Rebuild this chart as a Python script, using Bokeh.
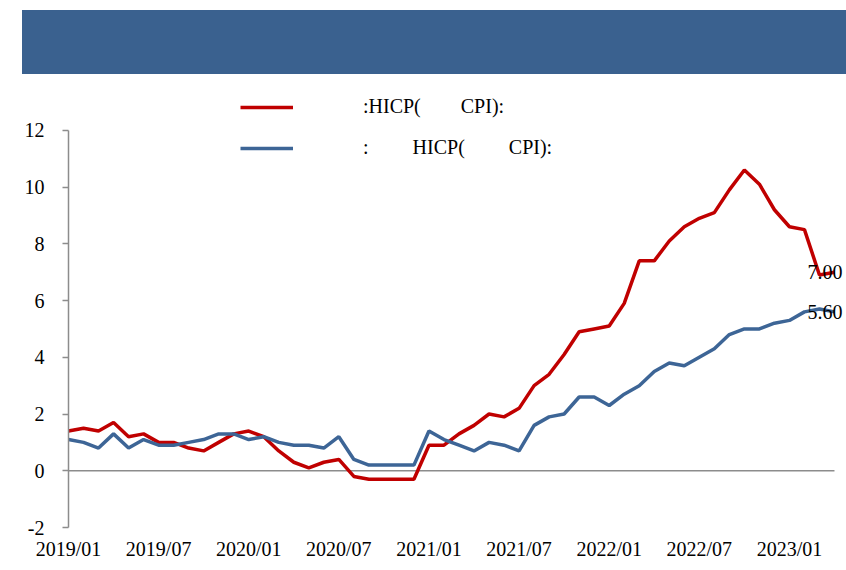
from bokeh.plotting import figure
from bokeh.models import Range1d, FixedTicker, Legend, LegendItem, Div
from bokeh.layouts import column
from bokeh.embed import file_html
from bokeh.resources import INLINE
from bokeh.core.properties import value

# Euro area HICP y/y (%) and core HICP y/y (%), monthly 2019/01 - 2023/04
hicp = [1.4, 1.5, 1.4, 1.7, 1.2, 1.3, 1.0, 1.0, 0.8, 0.7, 1.0, 1.3,
        1.4, 1.2, 0.7, 0.3, 0.1, 0.3, 0.4, -0.2, -0.3, -0.3, -0.3, -0.3,
        0.9, 0.9, 1.3, 1.6, 2.0, 1.9, 2.2, 3.0, 3.4, 4.1, 4.9, 5.0,
        5.1, 5.9, 7.4, 7.4, 8.1, 8.6, 8.9, 9.1, 9.9, 10.6, 10.1, 9.2,
        8.6, 8.5, 6.9, 7.0]
core = [1.1, 1.0, 0.8, 1.3, 0.8, 1.1, 0.9, 0.9, 1.0, 1.1, 1.3, 1.3,
        1.1, 1.2, 1.0, 0.9, 0.9, 0.8, 1.2, 0.4, 0.2, 0.2, 0.2, 0.2,
        1.4, 1.1, 0.9, 0.7, 1.0, 0.9, 0.7, 1.6, 1.9, 2.0, 2.6, 2.6,
        2.3, 2.7, 3.0, 3.5, 3.8, 3.7, 4.0, 4.3, 4.8, 5.0, 5.0, 5.2,
        5.3, 5.6, 5.7, 5.6]
tick_positions = [0, 6, 12, 18, 24, 30, 36, 42, 48]
tick_labels = ["2019/01", "2019/07", "2020/01", "2020/07", "2021/01",
               "2021/07", "2022/01", "2022/07", "2023/01"]
y_ticks = [-2, 0, 2, 4, 6, 8, 10, 12]
y_tick_labels = ["-2", "0", "2", "4", "6", "8", "10", "12"]
label_red = "\u2003\u2003\u2003:HICP(\u2003\u2003CPI):"
label_blue = "\u2003\u2003\u2003:\u2003\u2003\u2009HICP(\u2003\u2003\u2009CPI):"

RED = "#C00000"
BLUE = "#3D6596"
GRAY = "#8C8C8C"
FONT = "Liberation Serif"
FS = "20px"

x = list(range(len(hicp)))

# frame: 439 px high, 28.5 px per unit; axis itself limited to -2..12
p = figure(width=838, height=488, x_range=Range1d(0, 51.8),
           y_range=Range1d(-2, 12 + 40 / 28.5),
           output_backend="svg", toolbar_location=None, margin=(0, 0, 0, 8),
           min_border_left=60, min_border_right=0, min_border_top=16, min_border_bottom=33)
p.outline_line_color = None
p.xgrid.grid_line_color = None
p.ygrid.grid_line_color = None

# zero line
p.segment(x0=[0], y0=[0], x1=[len(hicp) - 1], y1=[0], line_color=GRAY, line_width=1.5)

r_red = p.line(x, hicp, line_color=RED, line_width=3.5)
r_blue = p.line(x, core, line_color=BLUE, line_width=3.5)

# end labels
p.text(x=[x[-1]], y=[hicp[-1]], text=[f"{hicp[-1]:.2f}"], text_font=value(FONT),
       text_font_size=FS, text_baseline="middle", text_align="left", x_offset=-27,
       text_color="black")
p.text(x=[x[-1]], y=[core[-1]], text=[f"{core[-1]:.2f}"], text_font=value(FONT),
       text_font_size=FS, text_baseline="middle", text_align="left", x_offset=-27,
       text_color="black")

# x axis
xa = p.xaxis[0]
xa.ticker = FixedTicker(ticks=tick_positions)
xa.major_label_overrides = {t: l for t, l in zip(tick_positions, tick_labels)}
xa.axis_line_color = None
xa.major_tick_line_color = None
xa.minor_tick_line_color = None
xa.major_tick_out = 0
xa.major_tick_in = 0
xa.major_label_standoff = 10
xa.major_label_text_font = FONT
xa.major_label_text_font_size = FS
xa.major_label_text_color = "black"

# y axis
ya = p.yaxis[0]
ya.ticker = FixedTicker(ticks=y_ticks)
ya.major_label_overrides = {t: l for t, l in zip(y_ticks, y_tick_labels)}
ya.bounds = (y_ticks[0], y_ticks[-1])
ya.axis_line_color = GRAY
ya.axis_line_width = 1.5
ya.major_tick_line_color = GRAY
ya.major_tick_line_width = 1.5
ya.major_tick_out = 6
ya.major_tick_in = 0
ya.minor_tick_line_color = None
ya.major_label_standoff = 18
ya.major_label_text_font = FONT
ya.major_label_text_font_size = FS
ya.major_label_text_color = "black"

legend = Legend(items=[LegendItem(label=label_red, renderers=[r_red]),
                       LegendItem(label=label_blue, renderers=[r_blue])],
                location=(172, 368), orientation="vertical",
                glyph_width=53, glyph_height=20, label_height=20, spacing=18,
                label_standoff=10, padding=0, margin=0,
                label_text_font=FONT, label_text_font_size=FS, label_text_color="black",
                background_fill_alpha=0, border_line_color=None)
p.add_layout(legend)

band = Div(text="", width=824, height=64, margin=(10, 0, 0, 22),
           styles={"background-color": "#3A618F"})

layout = column(band, p, spacing=0)

open("out.html", "w").write(file_html(layout, INLINE))
